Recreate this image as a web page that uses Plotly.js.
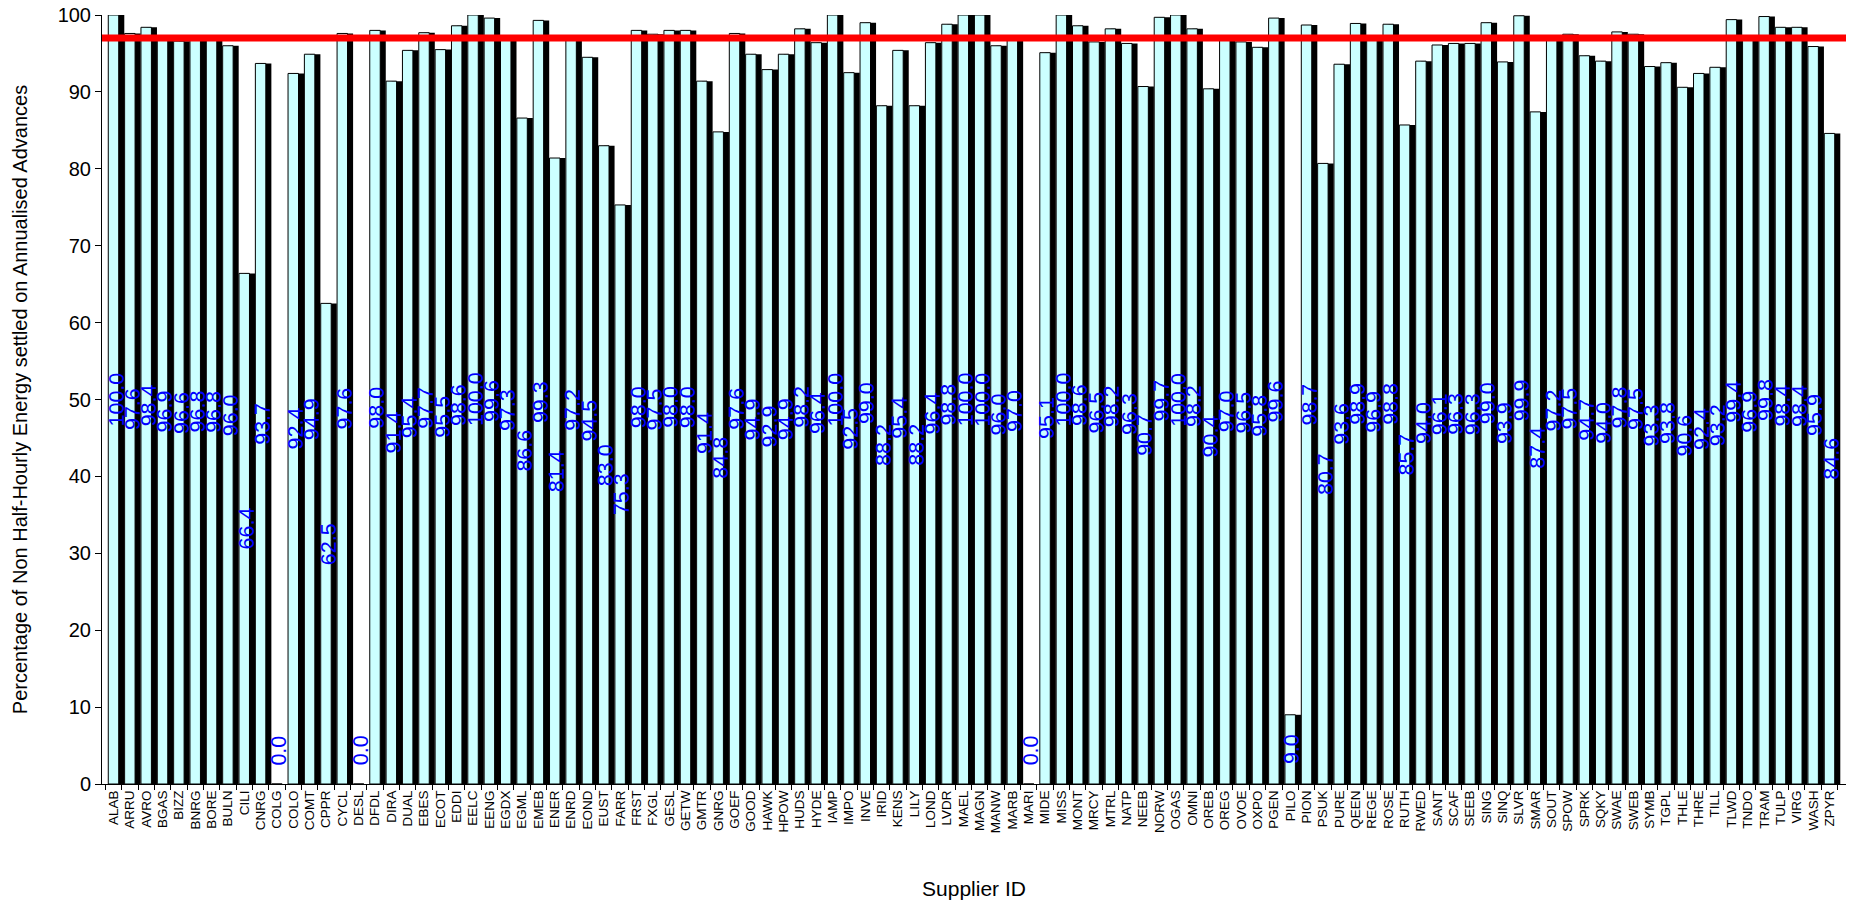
<!DOCTYPE html>
<html>
<head>
<meta charset="utf-8">
<script src="https://cdn.plot.ly/plotly-3.0.1.min.js"></script>
<style>
  html, body { margin: 0; padding: 0; background: #ffffff; }
  #chart { width: 1856px; height: 906px; }
</style>
</head>
<body>
<div id="chart"></div>
<script>
const suppliers = [
  "ALAB","ARRU","AVRO","BGAS","BIZZ","BNRG","BORE","BULN","CILI","CNRG",
  "COLG","COLO","COMT","CPPR","CYCL","DESL","DFDL","DIRA","DUAL","EBES",
  "ECOT","EDDI","EELC","EENG","EGDX","EGML","EMEB","ENER","ENRD","EOND",
  "EUST","FARR","FRST","FXGL","GESL","GETW","GMTR","GNRG","GOEF","GOOD",
  "HAWK","HPOW","HUDS","HYDE","IAMP","IMPO","INVE","IRID","KENS","LILY",
  "LOND","LVDR","MAEL","MAGN","MANW","MARB","MARI","MIDE","MISS","MONT",
  "MRCY","MTRL","NATP","NEEB","NORW","OGAS","OMNI","OREB","OREG","OVOE",
  "OXPO","PGEN","PILO","PION","PSUK","PURE","QEEN","REGE","ROSE","RUTH",
  "RWED","SANT","SCAF","SEEB","SING","SINQ","SLVR","SMAR","SOUT","SPOW",
  "SPRK","SQKY","SWAE","SWEB","SYMB","TGPL","THLE","THRE","TILL","TLWD",
  "TNDO","TRAM","TULP","VIRG","WASH","ZPYR"
];

const pctAnnualised = [
  100.0, 97.6, 98.4, 96.9, 96.6, 96.8, 96.8, 96.0, 66.4, 93.7,
  0.0, 92.4, 94.9, 62.5, 97.6, 0.0, 98.0, 91.4, 95.4, 97.7,
  95.5, 98.6, 100.0, 99.6, 97.3, 86.6, 99.3, 81.4, 97.2, 94.5,
  83.0, 75.3, 98.0, 97.5, 98.0, 98.0, 91.4, 84.8, 97.6, 94.9,
  92.9, 94.9, 98.2, 96.4, 100.0, 92.5, 99.0, 88.2, 95.4, 88.2,
  96.4, 98.8, 100.0, 100.0, 96.0, 97.0, 0.0, 95.1, 100.0, 98.6,
  96.5, 98.2, 96.3, 90.7, 99.7, 100.0, 98.2, 90.4, 97.0, 96.5,
  95.8, 99.6, 9.0, 98.7, 80.7, 93.6, 98.9, 96.9, 98.8, 85.7,
  94.0, 96.1, 96.3, 96.3, 99.0, 93.9, 99.9, 87.4, 97.2, 97.5,
  94.7, 94.0, 97.8, 97.5, 93.3, 93.8, 90.6, 92.4, 93.2, 99.4,
  96.9, 99.8, 98.4, 98.4, 95.9, 84.6
];

const targetLine = 97;

const valueLabels = pctAnnualised.map(v => v.toFixed(1));

const FONT = "Arial, 'Liberation Sans', sans-serif";

const shadowTrace = {
  type: "bar",
  x: suppliers,
  y: pctAnnualised,
  width: 0.64,
  offset: 0.02,
  marker: { color: "#000000", line: { width: 0 } },
  hoverinfo: "skip",
  showlegend: false
};

const mainTrace = {
  type: "bar",
  x: suppliers,
  y: pctAnnualised,
  width: 0.64,
  offset: -0.32,
  marker: { color: "#CCFFFF", line: { color: "#000000", width: 1 } },
  hovertemplate: "%{x}: %{y:.1f}<extra></extra>",
  showlegend: false
};

const annotations = suppliers.map((s, i) => ({
  x: s,
  y: Math.max(pctAnnualised[i] / 2, 4.4),
  xref: "x",
  yref: "y",
  text: valueLabels[i],
  textangle: -90,
  showarrow: false,
  xshift: 2.5,
  font: { family: FONT, size: 21.5, color: "#0000FF" }
}));

const layout = {
  width: 1856,
  height: 906,
  margin: { l: 102, r: 10, t: 15, b: 122 },
  paper_bgcolor: "#ffffff",
  plot_bgcolor: "#ffffff",
  barmode: "overlay",
  font: { family: FONT, color: "#000000" },
  xaxis: {
    type: "category",
    categoryorder: "array",
    categoryarray: suppliers,
    tickmode: "array",
    tickvals: suppliers,
    ticktext: suppliers,
    tickangle: -90,
    tickfont: { family: FONT, size: 13.5, color: "#000000" },
    ticks: "outside",
    tickson: "boundaries",
    ticklen: 5,
    tickcolor: "#000000",
    showline: true,
    linecolor: "#000000",
    linewidth: 1,
    showgrid: false,
    zeroline: false,
    automargin: false,
    title: { text: "Supplier ID", font: { family: FONT, size: 21, color: "#000000" }, standoff: 49 }
  },
  yaxis: {
    range: [0, 100],
    dtick: 10,
    tick0: 0,
    ticks: "outside",
    ticklen: 6,
    tickcolor: "#000000",
    tickfont: { family: FONT, size: 20, color: "#000000" },
    showline: true,
    linecolor: "#000000",
    linewidth: 1,
    showgrid: false,
    zeroline: false,
    automargin: false,
    title: { text: "Percentage of Non Half-Hourly Energy settled on Annualised Advances", font: { family: FONT, size: 20, color: "#000000" }, standoff: 24 }
  },
  shapes: [{
    type: "line",
    xref: "paper",
    yref: "y",
    x0: 0,
    x1: 1,
    y0: targetLine,
    y1: targetLine,
    line: { color: "#FF0000", width: 7 }
  }],
  annotations: annotations
};

Plotly.newPlot("chart", [shadowTrace, mainTrace], layout, { displayModeBar: false, staticPlot: true });
</script>
</body>
</html>
